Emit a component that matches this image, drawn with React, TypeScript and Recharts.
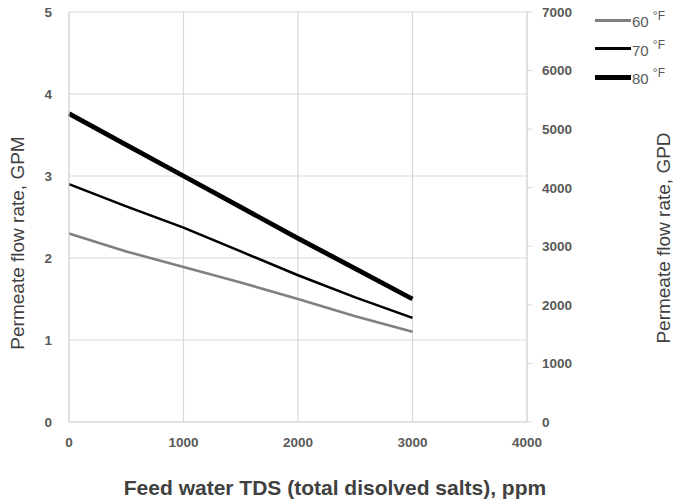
import { LineChart, Line, XAxis, YAxis, CartesianGrid } from "recharts";

// feed water TDS, ppm
const tds = [0, 500, 1000, 1500, 2000, 2500, 3000];
// permeate flow, GPM
const gpm60 = [2.3, 2.08, 1.89, 1.7, 1.5, 1.29, 1.1];
const gpm70 = [2.9, 2.63, 2.37, 2.08, 1.79, 1.52, 1.27];
const gpm80 = [3.76, 3.38, 3.0, 2.62, 2.24, 1.87, 1.5];

const xTicks = [0, 1000, 2000, 3000, 4000];
const gpmTicks = [0, 1, 2, 3, 4, 5];
const gpdTicks = [0, 1000, 2000, 3000, 4000, 5000, 6000, 7000];

const series = [
  { key: "t60", label: "60", color: "#808080", width: 2.6, legendWidth: 3 },
  { key: "t70", label: "70", color: "#000000", width: 2.5, legendWidth: 3 },
  { key: "t80", label: "80", color: "#000000", width: 4.8, legendWidth: 5.5 },
];

const data = tds.map((x, i) => ({ tds: x, t60: gpm60[i], t70: gpm70[i], t80: gpm80[i] }));

const font = "Liberation Sans, Arial, sans-serif";
const tickStyle = { fontSize: 13.5, fontWeight: 700, fill: "#595959", fontFamily: font };
const axisGray = "#d9d9d9";

const LegendBox = () => (
  <div style={{ position: "absolute", left: 595, top: 6, fontFamily: font, color: "#595959", fontSize: 15 }}>
    {series.map((s) => (
      <div key={s.key} style={{ display: "flex", alignItems: "center", height: 28.5 }}>
        <div style={{ width: 36, height: s.legendWidth, background: s.color, marginRight: 1 }} />
        <span>
          {s.label}{" "}
          <sup style={{ fontSize: 12, position: "relative", top: -1 }}>°F</sup>
        </span>
      </div>
    ))}
  </div>
);

const vTitle = (text: string, cx: number, cy: number) => (
  <text
    x={cx}
    y={cy}
    transform={`rotate(-90, ${cx}, ${cy})`}
    textAnchor="middle"
    dominantBaseline="central"
    style={{ fontSize: 19, fill: "#404040", fontFamily: font }}
  >
    {text}
  </text>
);

export default function App() {
  return (
    <div style={{ position: "absolute", left: 0, top: 0, width: 675, height: 504, background: "#fff" }}>
      <LineChart width={675} height={504} data={data} margin={{ top: 12, right: 88, bottom: 0, left: 0 }}>
        <CartesianGrid yAxisId="left" stroke={axisGray} strokeWidth={1.2} />
        <XAxis
          dataKey="tds"
          type="number"
          domain={[0, 4000]}
          ticks={xTicks}
          height={82}
          tickLine={false}
          tickMargin={9}
          stroke={axisGray}
          tick={tickStyle}
          label={{
            value: "Feed water TDS (total disolved salts), ppm",
            position: "insideBottom",
            offset: 9,
            dx: 37,
            style: { fontSize: 21, fontWeight: 700, fill: "#404040", fontFamily: font },
          }}
        />
        <YAxis
          yAxisId="left"
          type="number"
          domain={[0, 5]}
          ticks={gpmTicks}
          width={69}
          tickLine={false}
          tickMargin={11}
          stroke={axisGray}
          tick={tickStyle}
          label={{
            value: "Permeate flow rate, GPM",
            content: (props: any) => {
              const vb = props.viewBox;
              return vTitle("Permeate flow rate, GPM", vb.x + 17, vb.y + vb.height / 2 + 26);
            },
          }}
        />
        <YAxis
          yAxisId="right"
          orientation="right"
          type="number"
          domain={[0, 7000]}
          allowDataOverflow
          ticks={gpdTicks}
          width={60}
          tickSize={5}
          tickMargin={10}
          stroke={axisGray}
          tick={tickStyle}
          label={{
            value: "Permeate flow rate, GPD",
            content: (props: any) => {
              const vb = props.viewBox;
              return vTitle("Permeate flow rate, GPD", 663, vb.y + vb.height / 2 + 21);
            },
          }}
        />
        {series.map((s) => (
          <Line
            key={s.key}
            yAxisId="left"
            type="linear"
            dataKey={s.key}
            stroke={s.color}
            strokeWidth={s.width}
            dot={false}
            isAnimationActive={false}
          />
        ))}
        {/* keeps the GPD axis bound to data; draws nothing */}
        <Line
          yAxisId="right"
          dataKey="t60"
          stroke="none"
          dot={false}
          activeDot={false}
          legendType="none"
          isAnimationActive={false}
        />
      </LineChart>
      <LegendBox />
    </div>
  );
}
